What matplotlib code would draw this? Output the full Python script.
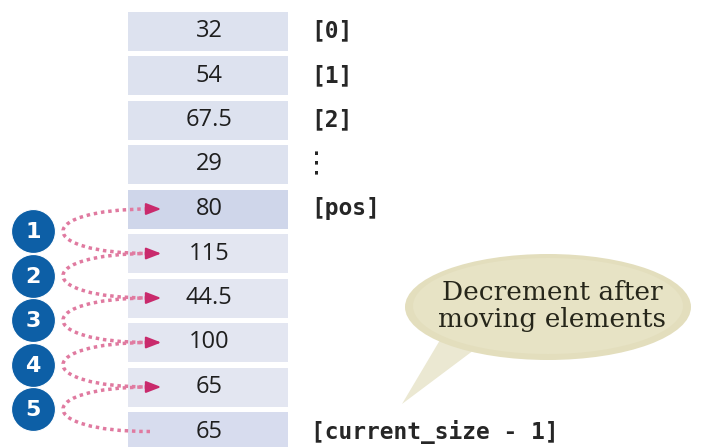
import numpy as np
import matplotlib.pyplot as plt
from matplotlib.patches import Ellipse, Polygon, PathPatch
from matplotlib.path import Path

# array contents, top to bottom
values = ['32', '54', '67.5', '29', '80', '115', '44.5', '100', '65', '65']
cell_colors = ['#dde2ef', '#dde2ef', '#dde2ef', '#dde2ef', '#cfd6ea',
               '#e3e6f1', '#e3e6f1', '#e3e6f1', '#e3e6f1', '#d7dcee']
index_rows = [0, 1, 2, 4, 9]
index_text = ['[0]', '[1]', '[2]', '[pos]', '[current_size - 1]']
steps = [1, 2, 3, 4, 5]
bubble_text = 'Decrement after\nmoving elements'

fig = plt.figure(figsize=(7.05, 4.47), dpi=100)
ax = fig.add_axes([0, 0, 1, 1])
ax.set_xlim(0, 705)
ax.set_ylim(447, 0)
ax.axis('off')

top, pitch = 31, 44.5
rows = np.arange(len(values))
row_y = top + pitch * rows

ax.barh(row_y, width=160, left=128, height=39, color=cell_colors)
for y, v in zip(row_y, values):
    ax.text(209, y, v, ha='center', va='center', fontsize=17,
            family='Open Sans', color='#1e1e1e')

for r, t in zip(index_rows, index_text):
    ax.text(311, row_y[r], t, ha='left', va='center', fontsize=16.5,
            family='DejaVu Sans Mono', weight='bold', color='#262626')
# vertical ellipsis under [2]
ax.text(317, row_y[3], '\u22ee', ha='center', va='center', fontsize=21,
        family='DejaVu Sans', color='#262626')

# moving steps: element i+1 shifted up into slot i
for k in steps:
    y_from = row_y[4 + k]
    y_to = row_y[3 + k]
    mid = (y_from + y_to) / 2
    verts = [(150, y_from), (34, y_from), (34, y_to), (150, y_to)]
    path = Path(verts, [Path.MOVETO, Path.CURVE4, Path.CURVE4, Path.CURVE4])
    ax.add_patch(PathPatch(path, fill=False, edgecolor='#e07aa0', lw=2.5,
                           linestyle=(0, (1, 1.1))))
    ax.annotate('', xy=(164, y_to), xytext=(146, y_to),
                arrowprops=dict(arrowstyle='-|>,head_length=0.9,head_width=0.35',
                                color='#c92a6c', lw=1.5))
    ax.scatter([33], [mid], s=1000, color='#0d5fa6', edgecolor='white',
               linewidth=0.8, zorder=5)
    ax.text(33, mid + 1, str(k), ha='center', va='center', fontsize=16,
            weight='bold', color='white', zorder=6)

# speech bubble
ax.add_patch(Polygon([(440, 340), (474, 350), (402, 404)], closed=True,
                     facecolor='#ebe8d2', edgecolor='none'))
ax.add_patch(Ellipse((548, 307), 286, 106, facecolor='#e3debd', edgecolor='none'))
ax.add_patch(Ellipse((548, 306), 270, 96, facecolor='#e7e3c5', edgecolor='none'))
ax.text(552, 306, bubble_text, ha='center', va='center', fontsize=19,
        family='DejaVu Serif', color='#26261a', linespacing=1.15)

fig.savefig('out.png', dpi=100)
